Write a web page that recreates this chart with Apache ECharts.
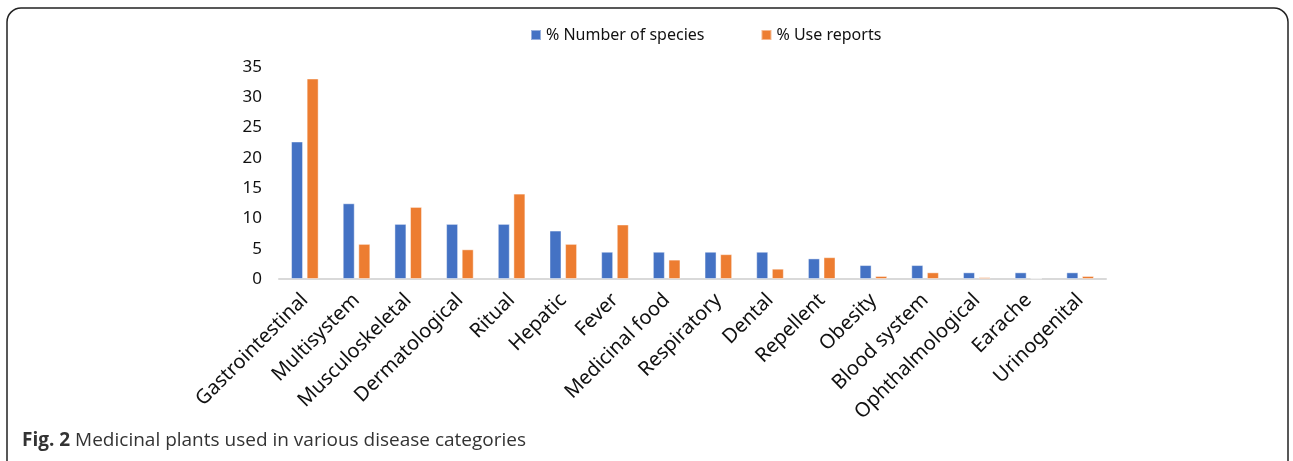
<!DOCTYPE html>
<html>
<head>
<meta charset="utf-8">
<script src="https://cdn.jsdelivr.net/npm/echarts@6/dist/echarts.min.js"></script>
<style>
  html, body { margin: 0; padding: 0; background: #fff; }
  #chart { width: 1293px; height: 461px; }
</style>
</head>
<body>
<div id="chart"></div>
<script>
// disease categories
var categories = ['Gastrointestinal', 'Multisystem', 'Musculoskeletal', 'Dermatological', 'Ritual',
    'Hepatic', 'Fever', 'Medicinal food', 'Respiratory', 'Dental', 'Repellent', 'Obesity',
    'Blood system', 'Ophthalmological', 'Earache', 'Urinogenital'];
var speciesPct = [22.7, 12.5, 9.1, 9.1, 9.1, 8.0, 4.5, 4.5, 4.5, 4.5, 3.4, 2.3, 2.3, 1.1, 1.1, 1.1];
var useReportsPct = [33.1, 5.8, 11.9, 4.9, 14.1, 5.8, 9.0, 3.2, 4.1, 1.7, 3.6, 0.5, 1.1, 0.3, 0.1, 0.5];
var yTicks = [0, 5, 10, 15, 20, 25, 30, 35];

var myChart = echarts.init(document.getElementById('chart'));
var option = {
    animation: false,
    textStyle: { fontFamily: '"Noto Sans", "Open Sans", sans-serif' },
    legend: {
        top: 22,
        left: 525,
        icon: 'rect',
        itemWidth: 10,
        itemHeight: 10,
        itemGap: 56,
        textStyle: { fontSize: 16, color: '#111' },
        data: ['% Number of species', '% Use reports']
    },
    grid: {
        left: 279,
        right: 187,
        top: 67,
        bottom: 182
    },
    xAxis: {
        type: 'category',
        data: categories,
        axisLine: { lineStyle: { color: '#d9d9d9', width: 2 } },
        axisTick: { show: false },
        axisLabel: {
            rotate: 45,
            interval: 0,
            fontSize: 20,
            color: '#111',
            margin: 18
        }
    },
    yAxis: {
        type: 'value',
        min: yTicks[0],
        max: yTicks[yTicks.length - 1],
        interval: 5,
        splitLine: { show: false },
        axisLine: { show: false },
        axisTick: { show: false },
        axisLabel: { fontSize: 17, color: '#111', margin: 17 }
    },
    series: [{
        name: '% Number of species',
        type: 'bar',
        data: speciesPct,
        barWidth: 12,
        barGap: '30%',
        itemStyle: { color: '#4472c4', borderColor: 'rgba(255,255,255,0.45)', borderWidth: 1 }
    }, {
        name: '% Use reports',
        type: 'bar',
        data: useReportsPct,
        barWidth: 12,
        itemStyle: { color: '#ed7d31', borderColor: 'rgba(255,255,255,0.45)', borderWidth: 1 }
    }],
    graphic: [{
        type: 'rect',
        shape: { x: 7, y: 8, width: 1281, height: 470, r: 14 },
        style: { fill: 'none', stroke: '#222', lineWidth: 1.5 },
        silent: true
    }, {
        type: 'text',
        left: 22,
        top: 431,
        style: {
            text: '{b|Fig. 2} Medicinal plants used in various disease categories',
            fontSize: 19,
            fill: '#333',
            fontFamily: '"Open Sans", sans-serif',
            rich: {
                b: { fontWeight: 'bold', fontSize: 19, fill: '#333', fontFamily: '"Open Sans", sans-serif' }
            }
        }
    }]
};
myChart.setOption(option);
window.onresize = myChart.resize;
</script>
</body>
</html>
